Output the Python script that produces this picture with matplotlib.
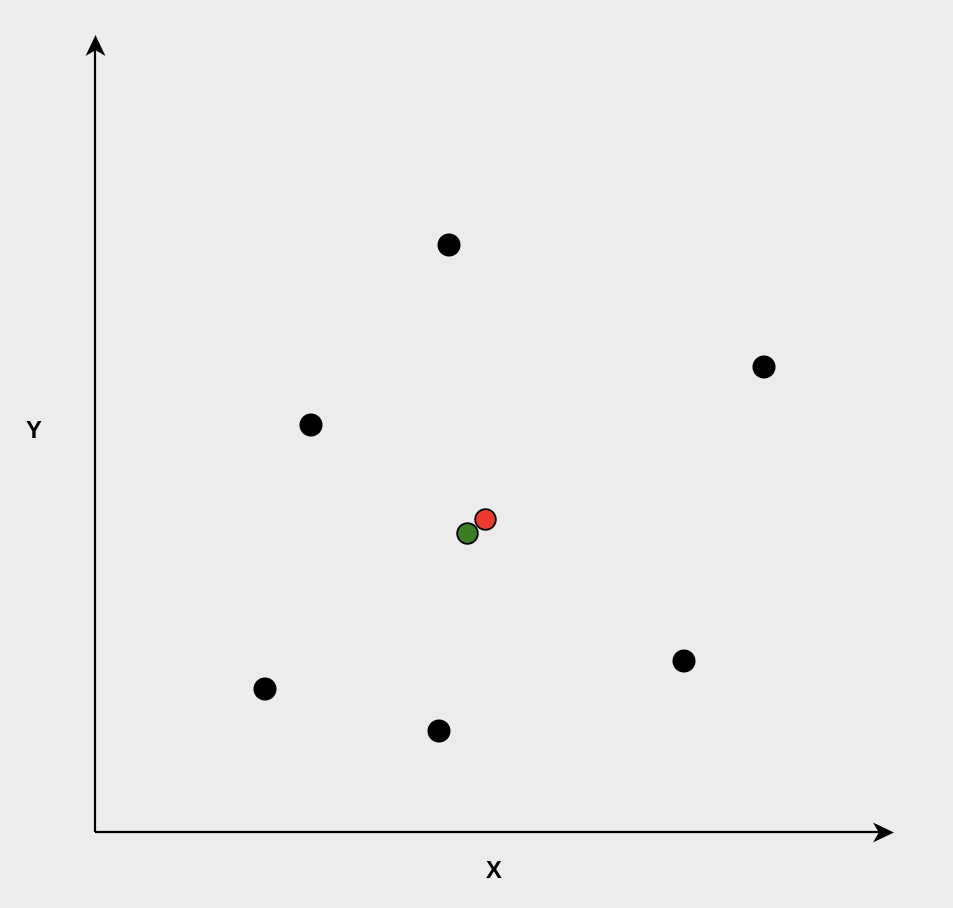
import matplotlib.pyplot as plt
from matplotlib.path import Path

# black sample points (x, y)
pts_x = [3.54, 6.69, 2.16, 1.70, 3.44, 5.89]
pts_y = [5.87, 4.65, 4.07, 1.43, 1.01, 1.71]

# highlighted points
red_x, red_y = [3.90], [3.13]
green_x, green_y = [3.72], [2.99]

x_len = 7.98
y_len = 7.97

bg = "#ececec"

fig = plt.figure(figsize=(9.54, 9.08), dpi=100, facecolor=bg)
ax = fig.add_axes([0, 0, 1, 1], facecolor=bg)
ax.set_xlim(-0.95, 8.59)
ax.set_ylim(-0.76, 8.32)
ax.axis("off")

#axis lines
ax.plot([0, x_len - 0.1], [0, 0], color="black", lw=1.6, solid_capstyle="butt", zorder=2)
ax.plot([0, 0], [0, y_len - 0.1], color="black", lw=1.6, solid_capstyle="butt", zorder=2)

#arrow heads (stealth shape)
head_r = Path([(1, 0), (-1, 0.95), (-0.45, 0), (-1, -0.95), (1, 0)],
              [Path.MOVETO, Path.LINETO, Path.LINETO, Path.LINETO, Path.CLOSEPOLY])
head_u = Path([(0, 1), (0.95, -1), (0, -0.45), (-0.95, -1), (0, 1)],
              [Path.MOVETO, Path.LINETO, Path.LINETO, Path.LINETO, Path.CLOSEPOLY])
ax.plot([x_len - 0.1], [0], marker=head_r, markersize=15, color="black", mew=0, zorder=3)
ax.plot([0], [y_len - 0.1], marker=head_u, markersize=15, color="black", mew=0, zorder=3)

#points
ax.scatter(pts_x, pts_y, s=275, c="black", edgecolors="none", zorder=4)
ax.scatter(green_x, green_y, s=220, c="#3a7d22", edgecolors="black", linewidths=1.3, zorder=5)
ax.scatter(red_x, red_y, s=220, c="#ee3a2d", edgecolors="black", linewidths=1.3, zorder=6)

#labels
ax.text(x_len / 2, -0.40, "X", fontsize=17, fontweight="bold",
        family="Liberation Sans", ha="center", va="center")
ax.text(-0.62, 4.00, "Y", fontsize=17, fontweight="bold",
        family="Liberation Sans", ha="center", va="center")

fig.savefig("out.png", dpi=100, facecolor=bg)
